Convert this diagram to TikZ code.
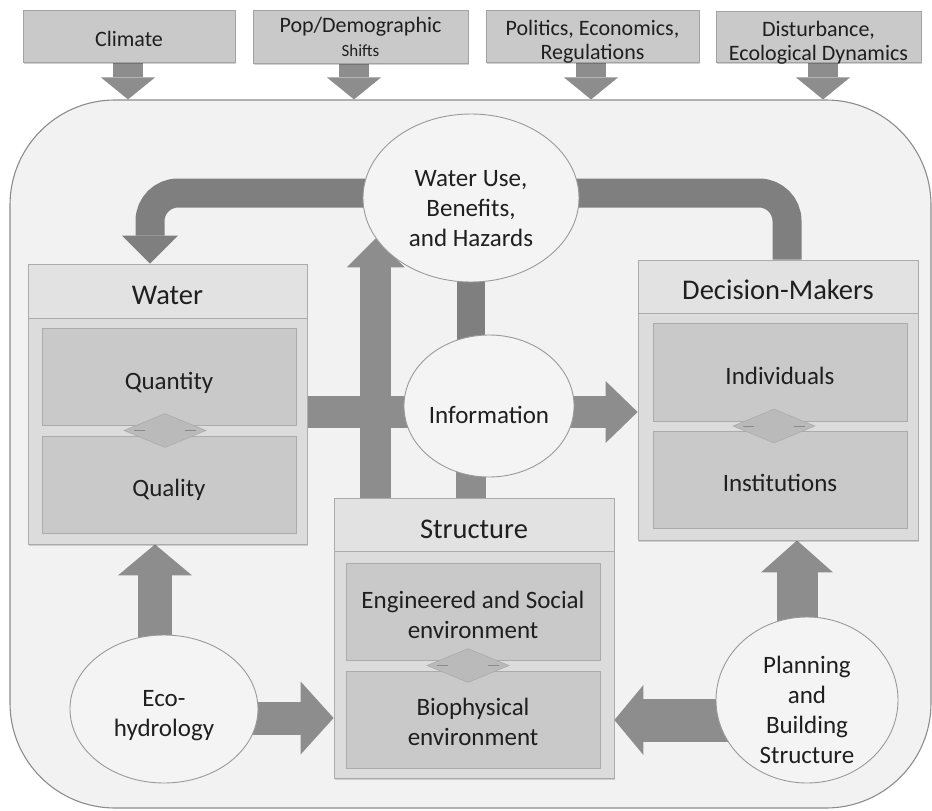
\documentclass[tikz,border=0pt]{standalone}
\usepackage{fontspec}
\setmainfont{Carlito}
\usetikzlibrary{shapes.geometric,arrows.meta,calc,shadows}
\pgfdeclarelayer{bg}
\pgfdeclarelayer{flow}
\pgfsetlayers{bg,flow,main}

\definecolor{panel}{HTML}{F2F2F2}
\definecolor{paneledge}{HTML}{8C8C8C}
\definecolor{driverfill}{HTML}{C9C9C9}
\definecolor{driveredge}{HTML}{A3A3A3}
\definecolor{headfill}{HTML}{E2E2E2}
\definecolor{bodyfill}{HTML}{DCDCDC}
\definecolor{boxedge}{HTML}{ABABAB}
\definecolor{innerfill}{HTML}{C9C9C9}
\definecolor{bubblefill}{HTML}{F4F4F4}
\definecolor{bubbleedge}{HTML}{9A9A9A}
\definecolor{linkfill}{HTML}{BABABA}
\definecolor{flowdark}{HTML}{7F7F7F}
\definecolor{flowmid}{HTML}{8D8D8D}
\definecolor{ink}{HTML}{1F1F1F}

% centred lines of text, set a little lower than the middle of their box
\newcommand{\dropped}[2]{\raisebox{-#1}[\height][\depth]{\begin{tabular}{@{}c@{}}#2\end{tabular}}}

\begin{document}
\begin{tikzpicture}[x=1pt,y=-1pt,
  every node/.style={text=ink},
  driver/.style={rectangle, draw=driveredge, fill=driverfill, line width=0.8pt,
    inner sep=0pt, font=\fontsize{22}{24}\selectfont,
    drop shadow={shadow xshift=1pt, shadow yshift=-1.5pt, fill=black, opacity=0.18}},
  holder/.style={rectangle, draw=boxedge, fill=bodyfill, line width=0.8pt, inner sep=0pt,
    drop shadow={shadow xshift=1pt, shadow yshift=-1.5pt, fill=black, opacity=0.15}},
  holdhead/.style={rectangle, draw=boxedge, fill=headfill, line width=0.8pt, inner sep=0pt,
    font=\fontsize{28.5}{32}\selectfont},
  part/.style={rectangle, draw=boxedge, fill=innerfill, line width=0.8pt, inner sep=0pt,
    font=\fontsize{25}{30}\selectfont},
  link/.style={diamond, draw=boxedge, fill=linkfill, line width=0.6pt, inner sep=0pt,
    minimum width=82pt, minimum height=34pt},
  linkdash/.style={draw=boxedge!80!black, line width=0.6pt},
  bubble/.style={ellipse, draw=bubbleedge, fill=bubblefill, line width=0.9pt, inner sep=0pt,
    font=\fontsize{25}{30}\selectfont},
  band/.style={line width=#1},
  dark/.style={draw=flowdark},
  mid/.style={draw=flowmid},
  head/.style 2 args={-{Triangle[length=#1, width=#2, line width=0pt]}}
]
\useasboundingbox (0,0) rectangle (932,811);

% outer system panel
\begin{pgfonlayer}{bg}
  \node[draw=paneledge, fill=panel, line width=1.1pt, rounded corners=105pt,
        minimum width=921pt, minimum height=708pt, inner sep=0pt] (sys) at (470.5,454) {};
\end{pgfonlayer}

% external drivers
\node[driver, minimum width=212pt, minimum height=52pt] (clim) at (129,36)
  {\dropped{6pt}{Climate}};
\node[driver, minimum width=215pt, minimum height=53pt] (pop) at (360.5,36.5)
  {\dropped{3pt}{Pop/Demographic\\[0pt]{\fontsize{17}{18}\selectfont Shifts}}};
\node[driver, minimum width=213pt, minimum height=52pt] (pol) at (592.5,36)
  {\dropped{6.5pt}{Politics, Economics,\\Regulations}};
\node[driver, minimum width=205pt, minimum height=51pt] (dist) at (818.5,37)
  {\dropped{7pt}{Disturbance,\\Ecological Dynamics}};

% Water
\node[holder, minimum width=279pt, minimum height=280pt] (water) at (167.5,404) {};
\node[holdhead, minimum width=279pt, minimum height=54pt] (waterh) at (167.5,291)
  {\dropped{7pt}{Water}};
\node[part, minimum width=254pt, minimum height=97pt] (qty) at (169,376.5)
  {\dropped{7pt}{Quantity}};
\node[part, minimum width=254pt, minimum height=97pt] (qly) at (169,484.5)
  {\dropped{6pt}{Quality}};
\node[link] (qd) at (165,430.5) {};

% Decision-Makers
\node[holder, minimum width=280pt, minimum height=280pt] (dm) at (778,400) {};
\node[holdhead, minimum width=280pt, minimum height=53pt] (dmh) at (778,286.5)
  {\dropped{7pt}{Decision-Makers}};
\node[part, minimum width=254pt, minimum height=98pt] (ind) at (780,372)
  {\dropped{6pt}{Individuals}};
\node[part, minimum width=254pt, minimum height=97pt] (inst) at (780,479.5)
  {\dropped{6pt}{Institutions}};
\node[link] (dd) at (774,426) {};

% Structure
\node[holder, minimum width=280pt, minimum height=280pt] (st) at (474,638) {};
\node[holdhead, minimum width=280pt, minimum height=53pt] (sth) at (474,524.5)
  {\dropped{8pt}{Structure}};
\node[part, minimum width=254pt, minimum height=97pt] (eng) at (473,611.5)
  {\dropped{6pt}{Engineered and Social\\environment}};
\node[part, minimum width=254pt, minimum height=97pt] (bio) at (473,719.5)
  {\dropped{5pt}{Biophysical\\environment}};
\node[link] (sd) at (468,665.5) {};

% small marks inside the link diamonds
\foreach \d in {qd,dd,sd}{
  \draw[linkdash] ($(\d.center)+(-31,0)$) -- ($(\d.center)+(-20,0)$);
  \draw[linkdash] ($(\d.center)+(20,0)$) -- ($(\d.center)+(31,0)$);
}

% process bubbles
\node[bubble, minimum width=216pt, minimum height=168pt] (wu) at (471,198)
  {\dropped{12pt}{Water Use,\\Benefits,\\and Hazards}};
\node[bubble, minimum width=152pt, minimum height=142pt] (info) at (489,406)
  {\dropped{11pt}{Information}};
\node[bubble, minimum width=188pt, minimum height=148pt] (eco) at (164,709)
  {\dropped{6pt}{Eco-\\hydrology}};
\node[bubble, minimum width=182pt, minimum height=166pt, inner sep=-3pt] (plan) at (807,700)
  {\dropped{12pt}{Planning\\and\\Building\\Structure}};

% flows between the parts
\coordinate (wuL) at ($(wu.center)+(0,-5)$);
\coordinate (infoR) at ($(info.center)+(0,6)$);
\coordinate (ecoU) at ($(eco.center)+(-9,0)$);
\coordinate (ecoR) at ($(eco.center)+(0,9)$);
\coordinate (planL) at ($(plan.center)+(0,20)$);
\coordinate (planU) at ($(plan.center)+(-10,0)$);
\coordinate (t1) at ($(clim.south)+(-1,0)$);
\coordinate (t2) at ($(pop.south)+(-6.5,0)$);
\coordinate (t3) at ($(pol.south)+(-1.5,0)$);
\coordinate (t4) at ($(dist.south)+(4.5,0)$);

\begin{pgfonlayer}{flow}
  % feedback loop over the top
  \draw[dark, band=29pt, rounded corners=28pt, head={28pt}{56pt}]
    (wuL) -| ($(water.north)+(-17.5,0)$);
  \draw[dark, band=29pt, rounded corners=28pt]
    (wuL) -| ($(dm.north)+(9,0)$);
  % central spine
  \draw[dark, band=28pt] (wu.center) -- (wu.center |- info.center);
  \draw[mid, band=30pt] (wu.center |- info.center) -- (wu.center |- st.north);
  \draw[mid, band=31pt, head={29pt}{58pt}] (st.north -| wu.203) -- (wu.203);
  % water to information to decision-makers
  \draw[mid, band=32pt] ($(water.east)+(0,8)$) -- (infoR);
  \draw[mid, band=32pt, head={32pt}{62pt}] (infoR) -- (infoR -| dm.west);
  % eco-hydrology
  \draw[mid, band=34pt, head={31pt}{74pt}] (ecoU) -- (ecoU |- water.south);
  \draw[mid, band=33pt, head={33pt}{73pt}] (ecoR) -- (ecoR -| st.west);
  % planning and building
  \draw[mid, band=43pt, head={29pt}{70pt}] (planL) -- (planL -| st.east);
  \draw[mid, band=41pt, head={32pt}{72pt}] (planU) -- (planU |- dm.south);
  % external drivers into the system
  \foreach \t in {t1,t2,t3,t4}
    \draw[mid, band=30pt, head={22pt}{54pt}] (\t) -- (\t |- sys.north);
\end{pgfonlayer}
\end{tikzpicture}
\end{document}
